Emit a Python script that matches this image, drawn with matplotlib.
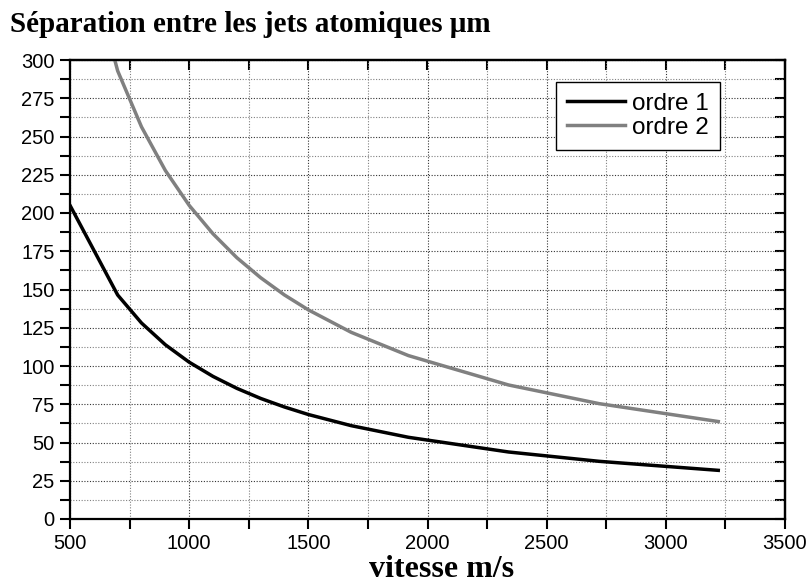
import matplotlib
matplotlib.use("Agg")
import matplotlib.pyplot as plt
from matplotlib.ticker import MultipleLocator

vitesse = [500, 700, 800, 900, 1000, 1100, 1200, 1300, 1400, 1500, 1680, 1920, 2340, 2720, 3220]
ordre1 = [205, 146.4, 128.1, 113.9, 102.5, 93.2, 85.4, 78.8, 73.2, 68.3, 61.0, 53.4, 43.8, 37.7, 31.8]
ordre2 = [410, 292.9, 256.3, 227.8, 205, 186.4, 170.8, 157.7, 146.4, 136.7, 122.0, 106.8, 87.6, 75.4, 63.7]
labels = ["ordre 1", "ordre 2"]
title = "Séparation entre les jets atomiques μm"
xlabel = "vitesse m/s"

fig = plt.figure(figsize=(8.09, 5.85), dpi=100)
ax = fig.add_axes([70/809, 1-519/585, 715/809, 459/585])

ax.plot(vitesse, ordre1, color="black", lw=2.5, label=labels[0])
ax.plot(vitesse, ordre2, color="#808080", lw=2.5, label=labels[1])

ax.set_xlim(500, 3500)
ax.set_ylim(0, 300)
ax.xaxis.set_major_locator(MultipleLocator(500))
ax.xaxis.set_minor_locator(MultipleLocator(250))
ax.yaxis.set_major_locator(MultipleLocator(25))
ax.yaxis.set_minor_locator(MultipleLocator(12.5))

ax.grid(which="major", linestyle=(0, (1, 1.5)), color="0.2", lw=0.8)
ax.grid(which="minor", linestyle=(0, (1, 1.5)), color="0.5", lw=0.8)
ax.set_axisbelow(True)

for s in ax.spines.values():
    s.set_linewidth(1.6)

ax.tick_params(which="both", direction="out", length=7, width=1.5,
               labelsize=14.5, top=False, right=False, pad=4)
axt = ax.secondary_xaxis("top")
axt.xaxis.set_major_locator(MultipleLocator(500))
axt.xaxis.set_minor_locator(MultipleLocator(250))
axt.tick_params(which="both", direction="in", length=7, width=1.5, labeltop=False)
axt.spines["top"].set_linewidth(1.6)
axr = ax.secondary_yaxis("right")
axr.yaxis.set_major_locator(MultipleLocator(25))
axr.yaxis.set_minor_locator(MultipleLocator(12.5))
axr.tick_params(which="both", direction="in", length=7, width=1.5, labelright=False)
axr.spines["right"].set_linewidth(1.6)

for lab in ax.get_xticklabels() + ax.get_yticklabels():
    lab.set_family("Liberation Sans")

leg = ax.legend(loc="upper right", prop={"family": "Liberation Sans", "size": 17.5},
                frameon=True, fancybox=False, edgecolor="black", handlelength=2.4,
                borderpad=0.45, labelspacing=0.08, handletextpad=0.3, borderaxespad=0)
leg.set_bbox_to_anchor((720/809, 1 - 82/585), transform=fig.transFigure)
leg.get_frame().set_linewidth(1.0)
leg.get_frame().set_alpha(1)

fig.text(10/809, 1 - 32/585, title, family="Liberation Serif", weight="bold",
         size=21, ha="left", va="baseline")
fig.text(442/809, 1 - 577/585, xlabel, family="Liberation Serif", weight="bold",
         size=23, ha="center", va="baseline")

fig.savefig("out.png", dpi=100)
